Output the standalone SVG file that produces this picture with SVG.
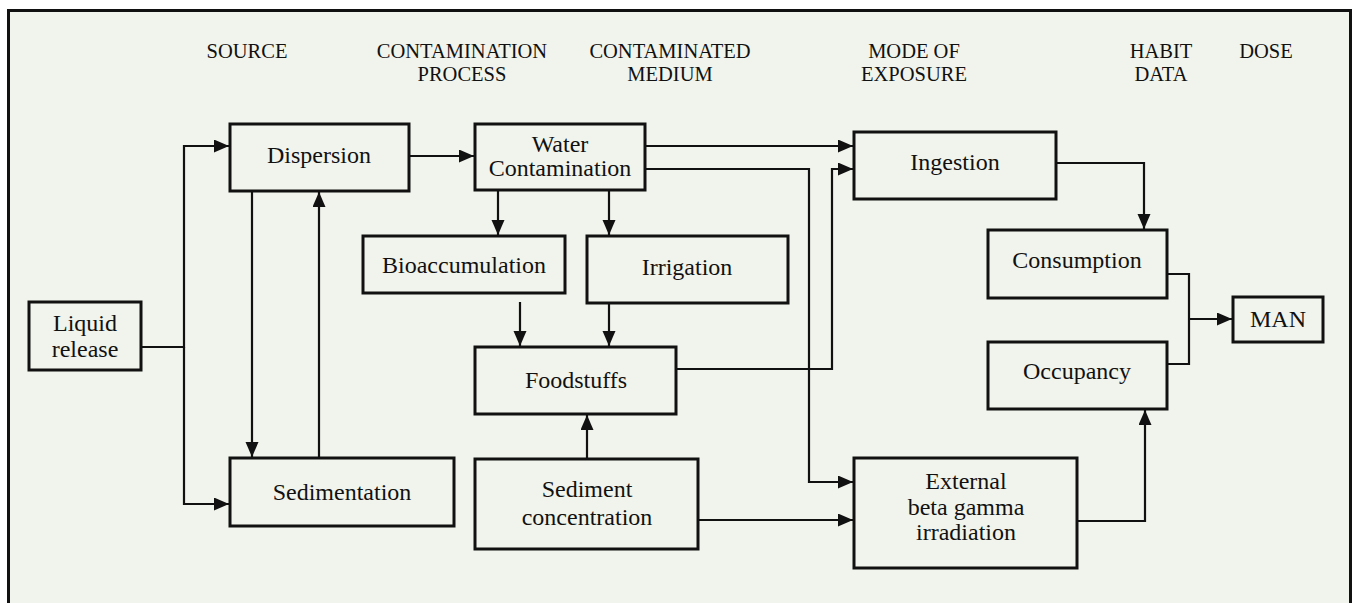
<svg xmlns="http://www.w3.org/2000/svg" width="1353" height="603" viewBox="0 0 1353 603">
<defs>
<style>
.frame{fill:#f1f4ec;stroke:#111;stroke-width:3}
.box{fill:#f1f4ec;stroke:#111;stroke-width:3}
.t{font-family:"Liberation Serif","Times New Roman",serif;font-size:24px;fill:#111;text-anchor:middle}
.h{font-family:"Liberation Serif","Times New Roman",serif;font-size:20.5px;fill:#111;text-anchor:middle}
.c{fill:none;stroke:#111;stroke-width:2.2}
</style>
<marker id="ah" markerUnits="userSpaceOnUse" markerWidth="16" markerHeight="14" refX="15" refY="6.5" orient="auto">
<path d="M0,0 L15,6.5 L0,13 z" fill="#111"/>
</marker>
</defs>
<rect x="0" y="0" width="1353" height="603" fill="#ffffff"/>
<rect class="frame" x="8.5" y="10.5" width="1342" height="700"/>

<g id="headers">
<text class="h" x="247" y="58">SOURCE</text>
<text class="h" x="462" y="58">CONTAMINATION</text>
<text class="h" x="462" y="81">PROCESS</text>
<text class="h" x="670" y="58">CONTAMINATED</text>
<text class="h" x="670" y="81">MEDIUM</text>
<text class="h" x="914" y="58">MODE OF</text>
<text class="h" x="914" y="81">EXPOSURE</text>
<text class="h" x="1161" y="58">HABIT</text>
<text class="h" x="1161" y="81">DATA</text>
<text class="h" x="1266" y="58">DOSE</text>
</g>

<g id="connectors">
<path class="c" d="M141,347 H184 V146 H229" marker-end="url(#ah)"/>
<path class="c" d="M184,347 V504 H229" marker-end="url(#ah)"/>
<path class="c" d="M252,191 V457" marker-end="url(#ah)"/>
<path class="c" d="M319,458 V192" marker-end="url(#ah)"/>
<path class="c" d="M409,156 H474" marker-end="url(#ah)"/>
<path class="c" d="M498,190 V235" marker-end="url(#ah)"/>
<path class="c" d="M609,190 V235" marker-end="url(#ah)"/>
<path class="c" d="M520,302 V346" marker-end="url(#ah)"/>
<path class="c" d="M609,303 V346" marker-end="url(#ah)"/>
<path class="c" d="M645,146 H853" marker-end="url(#ah)"/>
<path class="c" d="M645,169 H809 V482 H853" marker-end="url(#ah)"/>
<path class="c" d="M676,369 H832 V169 H853" marker-end="url(#ah)"/>
<path class="c" d="M587,459 V415" marker-end="url(#ah)"/>
<path class="c" d="M698,520 H853" marker-end="url(#ah)"/>
<path class="c" d="M1056,163 H1144 V229" marker-end="url(#ah)"/>
<path class="c" d="M1167,274 H1189 V364 H1167"/>
<path class="c" d="M1189,319 H1232" marker-end="url(#ah)"/>
<path class="c" d="M1077,521 H1145 V410" marker-end="url(#ah)"/>
</g>

<g id="liquid">
<rect class="box" x="29" y="302" width="112" height="68"/>
<text class="t" x="85" y="331" font-size="23">Liquid</text>
<text class="t" x="85" y="357" font-size="23">release</text>
</g>
<g id="dispersion">
<rect class="box" x="230" y="124" width="179" height="67"/>
<text class="t" x="319" y="163">Dispersion</text>
</g>
<g id="sedimentation">
<rect class="box" x="230" y="458" width="224" height="68"/>
<text class="t" x="342" y="500" font-size="23">Sedimentation</text>
</g>
<g id="water">
<rect class="box" x="475" y="124" width="170" height="66"/>
<text class="t" x="560" y="152" font-size="23">Water</text>
<text class="t" x="560" y="176" font-size="23">Contamination</text>
</g>
<g id="bioaccumulation">
<rect class="box" x="363" y="236" width="202" height="57"/>
<text class="t" x="464" y="273">Bioaccumulation</text>
</g>
<g id="irrigation">
<rect class="box" x="587" y="236" width="201" height="67"/>
<text class="t" x="687" y="275" font-size="27">Irrigation</text>
</g>
<g id="foodstuffs">
<rect class="box" x="475" y="347" width="201" height="67"/>
<text class="t" x="576" y="388">Foodstuffs</text>
</g>
<g id="sediment">
<rect class="box" x="475" y="459" width="223" height="90"/>
<text class="t" x="587" y="497">Sediment</text>
<text class="t" x="587" y="525">concentration</text>
</g>
<g id="ingestion">
<rect class="box" x="854" y="132" width="202" height="67"/>
<text class="t" x="955" y="170">Ingestion</text>
</g>
<g id="external">
<rect class="box" x="854" y="458" width="223" height="110"/>
<text class="t" x="966" y="489">External</text>
<text class="t" x="966" y="515">beta gamma</text>
<text class="t" x="966" y="540">irradiation</text>
</g>
<g id="consumption">
<rect class="box" x="988" y="230" width="179" height="68"/>
<text class="t" x="1077" y="268">Consumption</text>
</g>
<g id="occupancy">
<rect class="box" x="988" y="342" width="179" height="67"/>
<text class="t" x="1077" y="379">Occupancy</text>
</g>
<g id="man">
<rect class="box" x="1233" y="297" width="90" height="45"/>
<text class="t" x="1278" y="327">MAN</text>
</g>
</svg>
